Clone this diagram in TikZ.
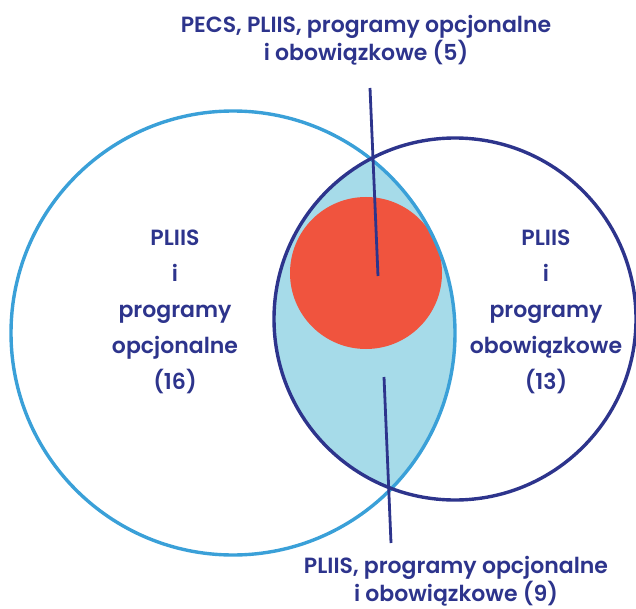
\documentclass[tikz,border=0pt]{standalone}
\usepackage{fontspec}
\setmainfont{Poppins SemiBold}
\usepackage{xcolor}
\usetikzlibrary{positioning}
\definecolor{navy}{RGB}{45,52,140}
\definecolor{skyline}{RGB}{58,160,216}
\definecolor{lensfill}{RGB}{166,219,233}
\definecolor{pecsred}{RGB}{240,84,62}

\begin{document}
\begin{tikzpicture}[x=0.5pt,y=-0.5pt,
  lbl/.style={text=navy, align=center, inner sep=0pt, font=\fontsize{11}{14}\selectfont},
  grp/.style={lbl, font=\fontsize{11}{18}\selectfont},
  link/.style={navy, line width=1.4pt}]
\useasboundingbox (0,0) rectangle (636,609);
\coordinate (opt) at (233,333);
\coordinate (obl) at (455,319);
\coordinate (pecs) at (366,273);
% czesc wspolna
\begin{scope}
\clip (opt) circle[radius=222];
\fill[lensfill] (obl) circle[radius=181];
\end{scope}
\fill[pecsred] (pecs) circle[radius=76];
\draw[skyline, line width=1.7pt] (opt) circle[radius=222];
\draw[navy, line width=1.7pt] (obl) circle[radius=181];
% etykiety
\node[lbl] (all) at (366,40) {PECS, PLIIS, programy opcjonalne\\i obowiązkowe (5)};
\node[grp] (left) at (175,312) {PLIIS\\i\\programy\\opcjonalne\\(16)};
\node[grp] (right) at (546,312) {PLIIS\\i\\programy\\obowiązkowe\\(13)};
\node[lbl] (rest) at (456,581) {PLIIS, programy opcjonalne\\i obowiązkowe (9)};
% linie
\coordinate (all foot) at (370,88);
\coordinate (pecs tip) at (378,276);
\coordinate (rest foot) at (391,543);
\coordinate (lens mid) at (384,377);
\draw[link] (all foot) -- (pecs tip);
\draw[link] (rest foot) -- (lens mid);
\end{tikzpicture}
\end{document}
